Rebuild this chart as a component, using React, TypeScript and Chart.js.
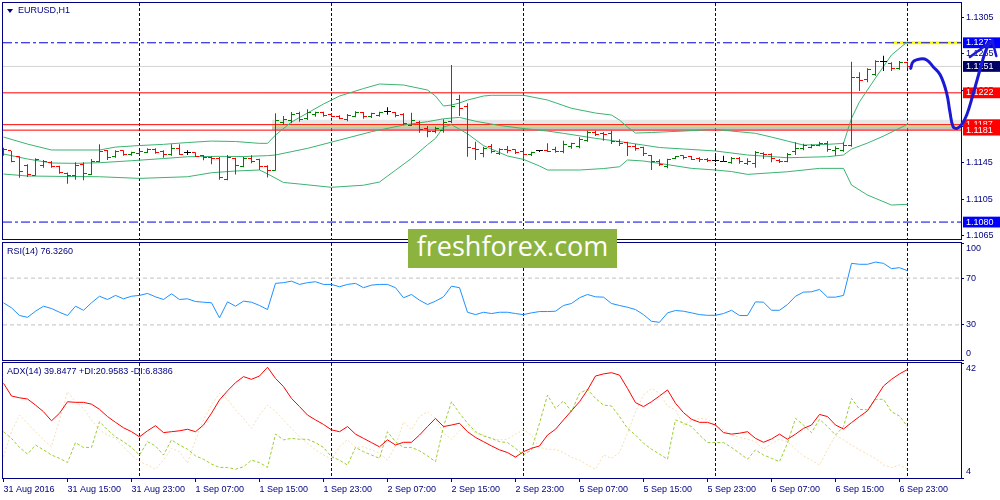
import React, { useEffect, useRef } from 'react';
import { Chart, registerables } from 'chart.js';

Chart.register(...registerables);

// ---------------- data ----------------
const xLabelBars = [0, 8, 16, 24, 32, 40, 48, 56, 64, 72, 80, 88, 96, 104, 112];
const xLabels = ['31 Aug 2016', '31 Aug 15:00', '31 Aug 23:00', '1 Sep 07:00', '1 Sep 15:00', '1 Sep 23:00', '2 Sep 07:00', '2 Sep 15:00', '2 Sep 23:00', '5 Sep 07:00', '5 Sep 15:00', '5 Sep 23:00', '6 Sep 07:00', '6 Sep 15:00', '6 Sep 23:00'];
const daySeparatorBars = [17, 41, 65, 89, 113];

const barOpen = [1.11570, 1.11581, 1.11518, 1.11427, 1.11317, 1.11427, 1.11456, 1.11408, 1.11335, 1.11317,
  1.11434, 1.11324, 1.11463, 1.11581, 1.11518, 1.11581, 1.11537, 1.11551, 1.11566, 1.11592,
  1.11573, 1.11537, 1.11610, 1.11559, 1.11559, 1.11529, 1.11507, 1.11500, 1.11273, 1.11493,
  1.11416, 1.11496, 1.11482, 1.11408, 1.11372, 1.11892, 1.11914, 1.11995, 1.11935, 1.11987,
  1.12001, 1.11979, 1.11957, 1.11929, 1.11965, 1.12001, 1.11957, 1.11973, 1.12012, 1.12001,
  1.11987, 1.11863, 1.11899, 1.11833, 1.11797, 1.11804, 1.11903, 1.12149, 1.12067, 1.11610,
  1.11555, 1.11628, 1.11555, 1.11599, 1.11592, 1.11573, 1.11537, 1.11581, 1.11584, 1.11592,
  1.11573, 1.11628, 1.11635, 1.11694, 1.11789, 1.11775, 1.11775, 1.11687, 1.11672, 1.11628,
  1.11621, 1.11526, 1.11467, 1.11408, 1.11496, 1.11526, 1.11518, 1.11500, 1.11489, 1.11474,
  1.11471, 1.11456, 1.11500, 1.11445, 1.11445, 1.11555, 1.11537, 1.11478, 1.11471, 1.11573,
  1.11610, 1.11617, 1.11646, 1.11668, 1.11581, 1.11581, 1.11646, 1.12386, 1.12364, 1.12423,
  1.12562, 1.12540, 1.12482, 1.12555];
const barHigh = [1.11617, 1.11581, 1.11522, 1.11434, 1.11500, 1.11482, 1.11471, 1.11419, 1.11346, 1.11456,
  1.11456, 1.11493, 1.11654, 1.11592, 1.11588, 1.11588, 1.11573, 1.11581, 1.11610, 1.11610,
  1.11588, 1.11654, 1.11654, 1.11588, 1.11566, 1.11537, 1.11522, 1.11515, 1.11537, 1.11507,
  1.11518, 1.11533, 1.11496, 1.11423, 1.11995, 1.11965, 1.12009, 1.12012, 1.12039, 1.12012,
  1.12012, 1.11995, 1.11973, 1.11987, 1.12017, 1.12009, 1.12001, 1.12012, 1.12061, 1.12009,
  1.11995, 1.12001, 1.11914, 1.11855, 1.11848, 1.11929, 1.12526, 1.12199, 1.12105, 1.11683,
  1.11628, 1.11657, 1.11610, 1.11635, 1.11599, 1.11584, 1.11573, 1.11592, 1.11665, 1.11628,
  1.11694, 1.11672, 1.11731, 1.11804, 1.11804, 1.11789, 1.11804, 1.11709, 1.11683, 1.11657,
  1.11628, 1.11537, 1.11489, 1.11496, 1.11526, 1.11533, 1.11526, 1.11511, 1.11504, 1.11526,
  1.11529, 1.11515, 1.11515, 1.11500, 1.11581, 1.11566, 1.11555, 1.11493, 1.11559, 1.11676,
  1.11661, 1.11654, 1.11683, 1.11690, 1.11632, 1.11676, 1.12562, 1.12445, 1.12489, 1.12577,
  1.12628, 1.12555, 1.12570, 1.12562];
const barLow = [1.11529, 1.11456, 1.11287, 1.11295, 1.11309, 1.11397, 1.11397, 1.11331, 1.11221, 1.11265,
  1.11259, 1.11317, 1.11456, 1.11482, 1.11507, 1.11529, 1.11529, 1.11544, 1.11559, 1.11551,
  1.11507, 1.11529, 1.11537, 1.11537, 1.11515, 1.11478, 1.11434, 1.11265, 1.11259, 1.11324,
  1.11401, 1.11445, 1.11372, 1.11291, 1.11364, 1.11870, 1.11885, 1.11903, 1.11921, 1.11957,
  1.11957, 1.11951, 1.11929, 1.11907, 1.11951, 1.11935, 1.11943, 1.11957, 1.11979, 1.11951,
  1.11863, 1.11855, 1.11782, 1.11731, 1.11775, 1.11782, 1.11885, 1.11965, 1.11518, 1.11482,
  1.11511, 1.11555, 1.11537, 1.11555, 1.11548, 1.11482, 1.11526, 1.11569, 1.11569, 1.11562,
  1.11555, 1.11606, 1.11610, 1.11683, 1.11745, 1.11694, 1.11657, 1.11635, 1.11526, 1.11584,
  1.11526, 1.11372, 1.11416, 1.11390, 1.11489, 1.11489, 1.11482, 1.11459, 1.11459, 1.11459,
  1.11463, 1.11441, 1.11441, 1.11427, 1.11397, 1.11493, 1.11456, 1.11449, 1.11456, 1.11537,
  1.11588, 1.11610, 1.11632, 1.11573, 1.11529, 1.11573, 1.11628, 1.12240, 1.12336, 1.12408,
  1.12460, 1.12460, 1.12474, 1.12489];
const barClose = [1.11592, 1.11463, 1.11361, 1.11324, 1.11485, 1.11463, 1.11412, 1.11346, 1.11309, 1.11427,
  1.11339, 1.11463, 1.11573, 1.11507, 1.11573, 1.11544, 1.11566, 1.11573, 1.11602, 1.11566,
  1.11537, 1.11610, 1.11544, 1.11559, 1.11522, 1.11507, 1.11493, 1.11295, 1.11507, 1.11427,
  1.11496, 1.11467, 1.11408, 1.11372, 1.11914, 1.11929, 1.11987, 1.11929, 1.12009, 1.12001,
  1.11976, 1.11965, 1.11943, 1.11973, 1.12001, 1.11957, 1.11995, 1.12001, 1.12012, 1.11973,
  1.11885, 1.11914, 1.11819, 1.11797, 1.11826, 1.11892, 1.12075, 1.12053, 1.11621, 1.11592,
  1.11606, 1.11573, 1.11592, 1.11584, 1.11562, 1.11537, 1.11562, 1.11581, 1.11577, 1.11573,
  1.11657, 1.11665, 1.11709, 1.11789, 1.11760, 1.11760, 1.11683, 1.11665, 1.11628, 1.11610,
  1.11555, 1.11463, 1.11438, 1.11489, 1.11518, 1.11511, 1.11489, 1.11482, 1.11474, 1.11474,
  1.11471, 1.11493, 1.11463, 1.11471, 1.11566, 1.11537, 1.11493, 1.11463, 1.11544, 1.11610,
  1.11639, 1.11639, 1.11661, 1.11592, 1.11610, 1.11639, 1.12386, 1.12350, 1.12474, 1.12562,
  1.12562, 1.12482, 1.12555, 1.12510];

const bbUpperBars = [0, 3, 6, 12, 14, 17, 20, 23, 26, 29, 32, 33, 34, 36, 38, 40, 42, 45, 47, 50, 53, 54, 55, 56, 57, 58, 60, 61, 65, 68, 71, 74, 76, 77, 78, 79, 81, 85, 89, 91, 94, 96, 98, 100, 103, 105, 106, 107, 109, 111, 113];
const bbUpper = [1.11734, 1.11657, 1.11592, 1.11592, 1.11624, 1.11641, 1.11654, 1.11674, 1.11690, 1.11685, 1.11665, 1.11665, 1.11756, 1.11899, 1.11998, 1.12097, 1.12185, 1.12267, 1.12317, 1.12306, 1.12251, 1.12185, 1.12075, 1.12086, 1.12108, 1.12141, 1.12185, 1.12193, 1.12193, 1.12141, 1.12050, 1.11998, 1.11976, 1.11921, 1.11844, 1.11778, 1.11784, 1.11800, 1.11819, 1.11800, 1.11775, 1.11734, 1.11690, 1.11646, 1.11654, 1.11665, 1.11940, 1.12122, 1.12383, 1.12636, 1.12782];
const bbMiddleBars = [0, 3, 6, 9, 12, 16, 20, 23, 27, 30, 33, 34, 38, 42, 46, 50, 53, 55, 57, 59, 62, 65, 68, 70, 74, 77, 80, 82, 85, 89, 93, 98, 103, 105, 106, 108, 110, 113];
const bbMiddle = [1.11548, 1.11493, 1.11449, 1.11445, 1.11452, 1.11474, 1.11498, 1.11518, 1.11522, 1.11520, 1.11530, 1.11537, 1.11610, 1.11701, 1.11793, 1.11866, 1.11903, 1.11935, 1.11950, 1.11908, 1.11861, 1.11828, 1.11800, 1.11775, 1.11720, 1.11685, 1.11646, 1.11619, 1.11603, 1.11581, 1.11537, 1.11507, 1.11518, 1.11537, 1.11602, 1.11668, 1.11745, 1.11874];
const bbLowerBars = [0, 3, 9, 12, 17, 23, 26, 29, 32, 33, 35, 37, 41, 45, 47, 49, 51, 53, 54, 55, 56, 57, 58, 60, 63, 65, 67, 68, 72, 75, 77, 78, 80, 82, 86, 89, 91, 93, 98, 102, 105, 106, 108, 111, 113];
const bbLower = [1.11328, 1.11306, 1.11300, 1.11298, 1.11280, 1.11298, 1.11342, 1.11361, 1.11372, 1.11330, 1.11235, 1.11218, 1.11182, 1.11205, 1.11240, 1.11370, 1.11500, 1.11650, 1.11720, 1.11845, 1.11870, 1.11820, 1.11770, 1.11640, 1.11526, 1.11489, 1.11416, 1.11372, 1.11372, 1.11388, 1.11408, 1.11482, 1.11471, 1.11445, 1.11390, 1.11372, 1.11355, 1.11324, 1.11353, 1.11390, 1.11390, 1.11207, 1.11097, 1.10987, 1.10995];

const priceMin = 1.10614;
const priceMax = 1.13207;
const priceTicks = [1.1305, 1.1265, 1.1225, 1.1185, 1.1145, 1.1105, 1.1065];
const priceMarkers = [1.1080, 1.1187, 1.1181, 1.1222, 1.1277, 1.1251];
const priceMarkerColors = ['#0000FF', '#FF0000', '#FF0000', '#FF0000', '#0000FF', '#000066'];
const dashDotLevels = [1.1277, 1.1080];
const redLevels = [1.1222, 1.1187, 1.1181];
const bidPrice = 1.1251;
const targetPrice = 1.1277;
const targetFromBar = 111.06;
const zoneFromBar = 33.56;
const zoneHaze = [1.11870, 1.11925];
const zoneShade = [1.11812, 1.11862];
const zoneLinePrice = 1.11862;

// hand-drawn forecast (right to left)
const forecastBars = [123.6, 122.9, 122.3, 121.7, 121.1, 120.4, 119.8, 119.2, 118.7, 118.3, 117.9, 117.1, 116.2, 115.4, 114.6, 113.7, 113.4];
const forecastPrices = [1.12795, 1.12709, 1.12548, 1.12361, 1.12174, 1.11976, 1.11877, 1.11830, 1.11848, 1.12012, 1.12215, 1.12416, 1.12507, 1.12581, 1.12592, 1.12562, 1.12489];
const arrowBars = [124.1, 123.6, 120.8];
const arrowPrices = [1.12625, 1.12795, 1.12614];

const rsiValues = [48.9, 44.6, 38.0, 36.5, 41.7, 46.0, 44.0, 40.8, 38.0, 46.0,
  42.5, 48.9, 54.5, 51.7, 55.2, 52.3, 54.5, 55.2, 56.9, 54.0,
  51.7, 56.6, 51.7, 52.3, 50.0, 49.4, 48.9, 36.0, 49.7, 46.0,
  50.3, 49.4, 46.6, 43.1, 65.5, 66.1, 67.4, 64.6, 66.1, 66.9,
  64.6, 64.6, 62.6, 64.6, 65.5, 61.8, 64.0, 64.6, 64.6, 61.8,
  53.2, 56.0, 51.1, 47.4, 50.3, 54.0, 63.1, 61.8, 40.8, 38.8,
  40.8, 39.7, 40.8, 40.8, 39.7, 38.8, 40.3, 41.4, 41.4, 41.7,
  46.6, 48.3, 53.2, 56.0, 54.0, 53.7, 48.3, 46.6, 45.1, 43.1,
  38.8, 33.1, 32.2, 40.3, 42.3, 41.7, 40.3, 38.8, 38.2, 38.2,
  39.7, 42.5, 38.0, 38.0, 49.7, 49.4, 42.5, 42.5, 47.4, 54.5,
  58.0, 58.3, 60.3, 53.7, 53.7, 55.2, 82.6, 81.8, 81.8, 83.7,
  82.6, 78.1, 78.9, 76.33];
const rsiTicks = [100, 70, 30, 0];
const rsiLevels = [70, 30];

const adxValues = [35.3, 31.1, 30.5, 30.1, 28.1, 25.9, 22.9, 25.4, 29.2, 29.0,
  29.0, 28.4, 26.7, 24.3, 22.4, 20.6, 19.3, 17.6, 19.6, 21.3,
  19.0, 19.3, 19.6, 20.1, 19.3, 21.5, 25.4, 29.8, 32.8, 35.5,
  37.5, 36.6, 37.7, 40.6, 36.9, 34.2, 30.3, 27.6, 24.8, 23.2,
  21.7, 19.9, 19.3, 21.0, 18.5, 17.1, 15.7, 14.3, 16.6, 14.9,
  15.8, 15.8, 18.2, 21.0, 23.7, 21.0, 21.5, 22.1, 19.3, 17.4,
  16.0, 14.6, 13.3, 12.4, 10.9, 12.7, 13.8, 14.6, 18.2, 20.1,
  23.2, 26.2, 29.2, 33.1, 37.7, 38.4, 38.8, 38.0, 33.6, 28.9,
  27.6, 29.2, 31.1, 33.1, 28.7, 25.6, 23.4, 22.4, 22.4, 21.5,
  19.0, 18.5, 18.8, 19.3, 17.1, 15.8, 16.9, 18.5, 16.8, 18.5,
  20.4, 21.5, 25.0, 24.3, 21.5, 20.2, 22.3, 24.3, 26.2, 30.3,
  34.4, 36.6, 38.4, 39.85];
const plusDi = [19.3, 17.1, 14.1, 11.9, 14.9, 13.3, 11.6, 10.5, 9.1, 15.7,
  14.1, 14.1, 22.6, 19.9, 17.6, 16.0, 14.1, 11.6, 16.0, 14.6,
  11.6, 16.6, 14.9, 13.5, 11.3, 10.2, 8.6, 7.5, 7.5, 6.9,
  7.7, 9.9, 9.1, 7.5, 18.5, 16.6, 17.1, 16.8, 16.8, 15.7,
  14.1, 11.0, 9.9, 8.3, 14.1, 12.7, 11.6, 10.5, 19.3, 16.0,
  14.1, 14.1, 13.0, 11.3, 9.4, 21.0, 29.2, 25.4, 22.1, 19.3,
  17.9, 17.1, 16.0, 15.7, 13.8, 11.6, 13.3, 22.1, 31.4, 27.0,
  29.5, 25.9, 32.0, 33.3, 30.3, 28.1, 27.8, 24.3, 20.4, 18.2,
  15.5, 13.5, 11.9, 10.2, 23.2, 22.1, 21.0, 18.2, 15.7, 15.7,
  15.7, 14.1, 12.2, 10.2, 13.3, 11.6, 10.5, 9.4, 15.5, 23.7,
  21.5, 19.0, 23.4, 21.0, 18.2, 21.0, 30.3, 26.7, 26.5, 30.0,
  30.0, 25.9, 24.5, 20.96];
const minusDi = [11.0, 19.3, 24.8, 22.1, 19.3, 16.6, 14.3, 23.2, 32.5, 29.2,
  27.0, 23.2, 19.9, 18.2, 17.1, 14.3, 11.6, 9.4, 8.3, 6.9,
  9.9, 13.8, 12.7, 8.9, 16.6, 23.2, 28.1, 32.0, 30.0, 26.5,
  23.7, 20.4, 24.8, 28.1, 25.9, 23.2, 20.4, 17.6, 15.5, 13.3,
  11.6, 10.2, 14.3, 16.6, 14.1, 14.3, 13.3, 12.2, 9.9, 14.6,
  22.6, 19.9, 24.3, 25.9, 23.7, 18.8, 16.8, 19.6, 21.5, 18.8,
  18.2, 17.1, 16.6, 16.8, 18.5, 19.9, 18.2, 14.1, 13.5, 13.5,
  12.4, 10.8, 9.9, 8.3, 6.9, 11.6, 10.5, 12.4, 18.8, 25.9,
  31.4, 33.6, 32.0, 27.8, 26.5, 21.5, 22.9, 23.7, 23.4, 21.5,
  19.9, 18.2, 17.4, 16.8, 16.0, 13.5, 15.5, 16.8, 16.0, 13.5,
  11.3, 9.9, 8.3, 13.3, 18.1, 16.6, 14.9, 13.3, 11.9, 10.5,
  8.3, 7.5, 8.3, 6.84];
const adxTicks = [42, 4];

// ---------------- styling ----------------
const NAVY = '#000080';
const FONT = 'Liberation Sans';
const X_MIN = -0.0625;
const X_MAX = 119.6875;
const UP = '#008000';
const DOWN = '#FF0000';
const DOJI = '#000000';
const BB = '#3CB371';
const NONE = 'rgba(0,0,0,0)';

const framePlugin = {
  id: 'paneFrame',
  beforeDatasetsDraw(chart: any) {
    const { ctx, chartArea: a } = chart;
    ctx.save();
    ctx.strokeStyle = NAVY;
    ctx.lineWidth = 1;
    ctx.strokeRect(a.left - 0.5, a.top - 0.5, a.right - a.left + 1, a.bottom - a.top + 1);
    ctx.restore();
    ctx.imageSmoothingEnabled = false;
  },
};

const series = (ys: number[]) => ys.map((y, i) => ({ x: i, y }));
const pts = (xs: number[], ys: number[]) => xs.map((x, i) => ({ x, y: ys[i] }));
const hline = (price: number, from = X_MIN, to = X_MAX) => [{ x: from, y: price }, { x: to, y: price }];
const line = (data: any[], color: string, extra: any = {}) => ({
  type: 'line', data, borderColor: color, borderWidth: 1, pointRadius: 0, fill: false, tension: 0, ...extra,
});

const tickFont = { family: FONT, size: 9, lineHeight: 1.2 };
const sideFont = { family: FONT, size: 9, lineHeight: 1.333 };

function sepScale() {
  return {
    type: 'linear', min: X_MIN, max: X_MAX, position: 'top', offset: false,
    ticks: { display: false },
    grid: { color: NAVY, lineWidth: 1, drawTicks: false, drawOnChartArea: true },
    border: { display: false, dash: [3, 2] },
    afterBuildTicks: (s: any) => { s.ticks = daySeparatorBars.map((value) => ({ value })); },
    afterFit: (s: any) => { s.height = 0; s.paddingLeft = 0; s.paddingRight = 0; },
  };
}

function sideScale(min: number, max: number, values: number[]) {
  return {
    type: 'linear', position: 'right', min, max,
    afterBuildTicks: (s: any) => { s.ticks = values.map((value) => ({ value })); },
    afterFit: (s: any) => { s.width = 39; s.paddingTop = 0; s.paddingBottom = 0; },
    grid: { drawOnChartArea: false, drawTicks: true, tickLength: 3, tickColor: NAVY },
    border: { display: false },
    ticks: {
      autoSkip: false, padding: 2, color: NAVY, font: sideFont,
      callback: (v: any, i: number, arr: any[]) => (i === 0 ? ['', String(v)] : i === arr.length - 1 ? [String(v), ''] : String(v)),
    },
  };
}

function baseOptions(padding: any, scales: any) {
  return {
    responsive: false, animation: false, devicePixelRatio: 1, events: [],
    layout: { padding, autoPadding: false },
    plugins: { legend: { display: false }, tooltip: { enabled: false }, title: { display: false } },
    scales,
  };
}

function makeTick(color: string, side: 'open' | 'close') {
  const c = document.createElement('canvas');
  c.width = 7;
  c.height = 1;
  const g = c.getContext('2d')!;
  g.fillStyle = color;
  g.fillRect(side === 'open' ? 0 : 4, 0, 3, 1);
  return c;
}

export default function App() {
  const mainRef = useRef<HTMLCanvasElement>(null);
  const rsiRef = useRef<HTMLCanvasElement>(null);
  const adxRef = useRef<HTMLCanvasElement>(null);

  useEffect(() => {
    Chart.defaults.font.family = FONT;
    const charts: any[] = [];

    const barColors = barOpen.map((o, i) => (barClose[i] > o ? UP : barClose[i] < o ? DOWN : DOJI));
    const openImgs: any = { [UP]: makeTick(UP, 'open'), [DOWN]: makeTick(DOWN, 'open'), [DOJI]: makeTick(DOJI, 'open') };
    const closeImgs: any = { [UP]: makeTick(UP, 'close'), [DOWN]: makeTick(DOWN, 'close'), [DOJI]: makeTick(DOJI, 'close') };
    const nReg = priceTicks.length;

    const mainScales = {
      x: { type: 'linear', min: X_MIN, max: X_MAX, display: false, offset: false },
      xs: sepScale(),
      y: {
        type: 'linear', position: 'right', min: priceMin, max: priceMax,
        afterBuildTicks: (s: any) => { s.ticks = [...priceTicks, ...priceMarkers].map((value) => ({ value })); },
        afterFit: (s: any) => { s.width = 39; s.paddingTop = 0; s.paddingBottom = 0; },
        grid: { drawOnChartArea: false, drawTicks: true, tickLength: 3, tickColor: (c: any) => (c.index < nReg ? NAVY : NONE) },
        border: { display: false },
        ticks: {
          autoSkip: false, padding: 2, font: tickFont,
          color: (c: any) => (c.index < nReg ? NAVY : '#FFFFFF'),
          callback: (v: any) => Number(v).toFixed(4),
          showLabelBackdrop: (c: any) => c.index >= nReg,
          backdropColor: (c: any) => priceMarkerColors[c.index - nReg] || NONE,
          backdropPadding: { top: 0, bottom: 0, left: 3, right: 12 },
        },
      },
    };

    const mainDatasets: any[] = [
      line(hline(zoneHaze[1], zoneFromBar), NONE, { borderWidth: 0, order: 12 }),
      line(hline(zoneHaze[0], zoneFromBar), NONE, { borderWidth: 0, order: 12, fill: '-1', backgroundColor: 'rgba(185,185,185,0.35)' }),
      line(hline(zoneShade[1], zoneFromBar), NONE, { borderWidth: 0, order: 11 }),
      line(hline(zoneShade[0], zoneFromBar), NONE, { borderWidth: 0, order: 11, fill: '-1', backgroundColor: 'rgba(150,150,150,0.55)' }),
      line(hline(bidPrice), '#D3D3D3', { order: 10 }),
      line(hline(targetPrice, targetFromBar), '#FFFF00', { borderWidth: 3, order: 9 }),
      line(hline(zoneLinePrice, zoneFromBar), '#FFFF00', { borderWidth: 1.5, order: 8.5 }),
      ...dashDotLevels.map((p) => line(hline(p), '#0000E0', { borderDash: [9, 3, 3, 3], order: 8 })),
      ...redLevels.map((p) => line(hline(p), '#FF0000', { order: 8 })),
      line(pts(bbUpperBars, bbUpper), BB, { order: 5 }),
      line(pts(bbMiddleBars, bbMiddle), BB, { order: 5 }),
      line(pts(bbLowerBars, bbLower), BB, { order: 5 }),
      {
        type: 'bar',
        data: barOpen.map((_, i) => ({ x: i, y: [barLow[i], barHigh[i]] })),
        backgroundColor: barColors, borderWidth: 0, barThickness: 1, inflateAmount: 0, order: 3,
      },
      line(series(barOpen), NONE, { showLine: false, pointRadius: 1, pointBorderWidth: 0, pointStyle: barColors.map((c) => openImgs[c]), order: 2 }),
      line(series(barClose), NONE, { showLine: false, pointRadius: 1, pointBorderWidth: 0, pointStyle: barColors.map((c) => closeImgs[c]), order: 2 }),
      line(pts(forecastBars, forecastPrices), '#1A1AD6', { borderWidth: 3, tension: 0.4, capBezierPoints: false, clip: false, borderCapStyle: 'round', borderJoinStyle: 'round', order: 1 }),
      line(pts(arrowBars, arrowPrices), '#1A1AD6', { borderWidth: 2.5, clip: false, borderCapStyle: 'round', borderJoinStyle: 'round', order: 1 }),
    ];

    charts.push(new Chart(mainRef.current as any, {
      type: 'line',
      data: { datasets: mainDatasets },
      options: baseOptions({ left: 3, top: 3, right: 0, bottom: 2 }, mainScales) as any,
      plugins: [framePlugin],
    } as any));

    charts.push(new Chart(rsiRef.current as any, {
      type: 'line',
      data: {
        datasets: [
          ...rsiLevels.map((v) => line(hline(v), '#C0C0C0', { borderDash: [4, 3], order: 5 })),
          line(series(rsiValues), '#1E90FF', { order: 1 }),
        ],
      },
      options: baseOptions({ left: 3, top: 2, right: 0, bottom: 1 }, {
        x: { type: 'linear', min: X_MIN, max: X_MAX, display: false, offset: false },
        xs: sepScale(),
        y: sideScale(0, 100, rsiTicks),
      }) as any,
      plugins: [framePlugin],
    } as any));

    charts.push(new Chart(adxRef.current as any, {
      type: 'line',
      data: {
        datasets: [
          line(series(minusDi), '#F5DEB3', { borderDash: [2, 2], order: 3 }),
          line(series(plusDi), '#9ACD32', { borderDash: [3, 2], order: 2 }),
          line(series(adxValues), '#FF0000', { order: 1 }),
        ],
      },
      options: baseOptions({ left: 3, top: 2, right: 0, bottom: 0 }, {
        x: {
          type: 'linear', min: X_MIN, max: X_MAX, position: 'bottom', offset: false,
          afterBuildTicks: (s: any) => { s.ticks = xLabelBars.map((value) => ({ value })); },
          afterFit: (s: any) => { s.height = 22; s.paddingLeft = 0; s.paddingRight = 0; },
          grid: { drawOnChartArea: false, drawTicks: true, tickLength: 4, tickColor: NAVY },
          border: { display: false },
          ticks: {
            autoSkip: false, maxRotation: 0, minRotation: 0, align: 'start', padding: 2,
            color: NAVY, font: tickFont, callback: (_v: any, i: number) => xLabels[i],
          },
        },
        xs: sepScale(),
        y: sideScale(4, 42, adxTicks),
      }) as any,
      plugins: [framePlugin],
    } as any));

    return () => { charts.forEach((c) => c.destroy()); };
  }, []);

  const label = (left: number, top: number, text: string) => (
    <div style={{ position: 'absolute', left, top, fontFamily: FONT, fontSize: 9, lineHeight: '11px', color: NAVY, whiteSpace: 'nowrap', pointerEvents: 'none' }}>{text}</div>
  );

  return (
    <div style={{ position: 'fixed', left: 0, top: 0, width: 1000, height: 500, background: '#FFFFFF', overflow: 'hidden' }}>
      <canvas ref={mainRef} width={1000} height={241} style={{ position: 'absolute', left: 0, top: 0 }} />
      <canvas ref={rsiRef} width={1000} height={120} style={{ position: 'absolute', left: 0, top: 241 }} />
      <canvas ref={adxRef} width={1000} height={139} style={{ position: 'absolute', left: 0, top: 361 }} />
      <div style={{ position: 'absolute', left: 7, top: 9, width: 0, height: 0, borderLeft: '3px solid transparent', borderRight: '3px solid transparent', borderTop: '4px solid ' + NAVY }} />
      {label(18, 5, 'EURUSD,H1')}
      {label(7, 246, 'RSI(14) 76.3260')}
      {label(7, 366, 'ADX(14) 39.8477 +DI:20.9583 -DI:6.8386')}
      <div style={{ position: 'absolute', left: 408, top: 229, width: 209, height: 39, background: '#8DB33F', color: '#FFFFFF', fontFamily: '"Open Sans"', fontSize: 27, lineHeight: '34px', textAlign: 'center', whiteSpace: 'nowrap', overflow: 'hidden' }}>freshforex.com</div>
    </div>
  );
}
